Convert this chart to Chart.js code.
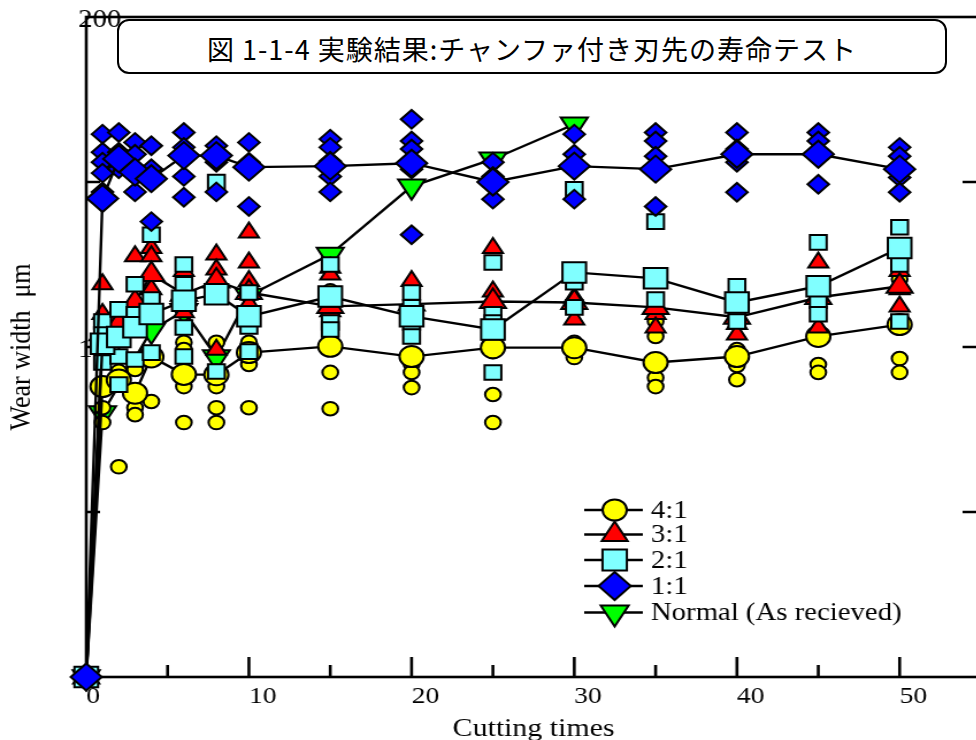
<!DOCTYPE html>
<html>
<head>
<meta charset="utf-8">
<script src="https://cdn.jsdelivr.net/npm/chart.js@4.4.0/dist/chart.umd.min.js"></script>
<style>
html, body { margin: 0; padding: 0; background: #fff; overflow: hidden; width: 976px; height: 740px; }
#wrap { position: absolute; left: 0; top: 0; width: 870px; height: 740px; transform: scaleX(1.15); transform-origin: 0 0; }
#title {
  position: absolute; left: 117px; top: 19px; width: 830px; height: 55px; box-sizing: border-box;
  border: 2px solid #000; border-radius: 12px; background: #fff; padding-top: 4px;
  display: flex; align-items: center; justify-content: center;
  font-family: "Noto Sans CJK JP", sans-serif; font-size: 27px; letter-spacing: 1px; color: #000;
}
</style>
</head>
<body>
<div id="wrap"><canvas id="wearChart"></canvas></div>
<div id="title">図 1-1-4 実験結果:チャンファ付き刃先の寿命テスト</div>
<script>
// cutting times where the averaged values were plotted
const cutTimes = [0, 1, 2, 3, 4, 6, 8, 10, 15, 20, 25, 30, 35, 40, 45, 50];

// averaged wear width (um), one per cutting time
const mean41 = [0, 88, 90, 86, 97, 91.7, 91.6, 98.3, 100.2, 97.1, 99.8, 99.8, 95.3, 97.1, 103.2, 106.8];
const mean31 = [0, 104, 107, 113.5, 122, 116, 120, 116.5, 112.3, 113, 113.8, 113.5, 112, 109, 115, 118.4];
const mean21 = [0, 101, 103, 106, 110, 114, 116, 109.3, 115.3, 109.3, 105.3, 122.6, 120.8, 113.5, 118.4, 130];
const mean11 = [0, 145, 157, 153, 151, 158, 158, 154.5, 154.8, 155.7, 150, 154.8, 153.9, 158.4, 158.4, 153.9];

const normalTimes = [0, 1, 4, 6, 8, 10, 15, 20, 25, 30];
const normalWear = [0, 80, 105, 111, 97, 115.6, 128, 148.7, 156.9, 167.5];

// single measurements, grouped by the cutting times above
const samples41 = [[], [81.6, 77.1], [92.6, 63.7], [93.2, 81.6, 79.5], [83.5], [101.4, 99.2, 88, 77.1],
  [101.4, 88, 81.6, 77.1], [101.4, 94.7, 81.6], [117, 103, 92.3, 81.3], [94.7, 92.3, 87.7],
  [113.5, 98.6, 85.6, 77.1], [101.4, 96.8], [107.7, 103.2, 90.7, 88], [99.2, 94.4, 90.1], [94.7, 92.3],
  [120.5, 96.5, 92.3]];
const samples31 = [[], [119, 110], [109.3, 106.2], [127.5, 113.5], [130, 127.5, 122, 117.5], [123, 110.5],
  [128, 123.5, 119.6, 99.2], [134.7, 125.6, 120, 113], [124, 122, 110.8], [120, 109.3],
  [130, 116.8, 113.5, 103.8], [115, 108.3], [110, 105.9], [107, 103.8], [125.6, 115.3, 105.9],
  [128.7, 123, 117.5, 112.3]];
const samples21 = [[], [107.7, 103.8, 95.3], [111.4, 97.1, 88.6], [119, 109.9, 96.2], [134, 114.4, 98.3],
  [125, 119, 105.9, 97.1], [150, 116.5, 92.6], [116.5, 106.2, 98.6], [125, 114.4, 107.4, 105.3],
  [116.5, 112, 107.4, 103.2], [125.6, 109.9, 107.4, 92.3], [147.8, 119.6, 112], [138, 114.4],
  [118.4, 112, 107.7], [131.7, 114, 109.9], [136.3, 125, 107.7]];
const samples11 = [[], [164.5, 159, 156, 152.7, 147], [165, 159, 156, 154], [162, 158.4, 154, 147],
  [161, 154, 138], [165, 160.5, 157.5, 151.7, 145.4], [161, 156, 147], [162, 156, 142.6],
  [163, 160.5, 156.3, 151.7, 147], [169, 162.4, 160, 153.9, 134], [156, 151.7, 144.8],
  [164.5, 158.4, 153.9, 144.8], [165, 162.4, 157.8, 142.6], [165, 160, 156, 146.9],
  [165, 162.4, 157.8, 149.3], [160.5, 157.8, 151.4, 146.9]];

const xTickLabels = [0, 10, 20, 30, 40, 50];
const yTickLabels = [100, 200];

const serif = "'Liberation Serif', 'Times New Roman', serif";

function pts(xs, ys) {
  return xs.map((x, i) => ({x: x, y: ys[i]}));
}
function flat(xs, groups) {
  const out = [];
  groups.forEach((g, i) => g.forEach(v => out.push({x: xs[i], y: v})));
  return out;
}

const series = [
  {label: '4:1', color: '#ffff00', style: 'circle', rot: 0, xs: cutTimes, mean: mean41, samples: samples41, big: 10.5, small: 6.8, leg: 10.5, order: 7},
  {label: '3:1', color: '#ff0000', style: 'triangle', rot: 0, xs: cutTimes, mean: mean31, samples: samples31, big: 13, small: 10, leg: 13, order: 5},
  {label: '2:1', color: '#80ffff', style: 'rect', rot: 0, xs: cutTimes, mean: mean21, samples: samples21, big: 14.5, small: 10.3, leg: 15, order: 3},
  {label: '1:1', color: '#0000ff', style: 'rectRot', rot: 0, xs: cutTimes, mean: mean11, samples: samples11, big: 13.5, small: 9.3, leg: 14, order: 1},
  {label: 'Normal (As recieved)', color: '#00ff00', style: 'triangle', rot: 180, xs: normalTimes, mean: normalWear, samples: null, big: 13.5, small: 0, leg: 14, order: 9}
];

const datasets = [];
series.forEach(s => {
  datasets.push({
    label: s.label, data: pts(s.xs, s.mean), showLine: true, order: s.order, clip: false,
    borderColor: '#000', borderWidth: 2.4, tension: 0,
    pointStyle: s.style, pointRotation: s.rot, pointRadius: s.big,
    pointBackgroundColor: s.color, pointBorderColor: '#000', pointBorderWidth: 2
  });
  if (s.samples) {
    datasets.push({
      label: s.label + ' each', data: flat(s.xs, s.samples), showLine: false, order: s.order + 1, clip: false,
      pointStyle: s.style, pointRotation: s.rot, pointRadius: s.small,
      pointBackgroundColor: s.color, pointBorderColor: '#000', pointBorderWidth: 2
    });
  }
});

function shape(ctx, style, x, y, r, rot) {
  ctx.beginPath();
  if (style === 'circle') {
    ctx.arc(x, y, r, 0, Math.PI * 2);
  } else if (style === 'rect') {
    const h = r / Math.SQRT2;
    ctx.rect(x - h, y - h, 2 * h, 2 * h);
  } else if (style === 'rectRot') {
    ctx.moveTo(x - r, y); ctx.lineTo(x, y - r); ctx.lineTo(x + r, y); ctx.lineTo(x, y + r); ctx.closePath();
  } else {
    let a = rot * Math.PI / 180;
    for (let k = 0; k < 3; k++) {
      const px = x + Math.sin(a) * r, py = y - Math.cos(a) * r;
      if (k) ctx.lineTo(px, py); else ctx.moveTo(px, py);
      a += 2 * Math.PI / 3;
    }
    ctx.closePath();
  }
  ctx.fill();
  ctx.stroke();
}

// frame and inward tick marks
const frame = {
  id: 'frame',
  beforeDatasetsDraw(chart) {
    const ctx = chart.ctx, a = chart.chartArea, x = chart.scales.x, y = chart.scales.y;
    ctx.save();
    ctx.strokeStyle = '#000';
    ctx.lineWidth = 2.6;
    ctx.strokeRect(a.left, a.top, a.right - a.left, a.bottom - a.top);
    ctx.beginPath();
    x.ticks.forEach(t => {
      if (t.value === 0) return;
      const px = x.getPixelForValue(t.value);
      const len = t.value % 10 === 0 ? 20 : 12;
      ctx.moveTo(px, a.bottom); ctx.lineTo(px, a.bottom - len);
    });
    y.ticks.forEach(t => {
      if (t.value === 0 || t.value === 200) return;
      const py = y.getPixelForValue(t.value);
      const len = t.value % 100 === 0 ? 17 : 12;
      ctx.moveTo(a.left, py); ctx.lineTo(a.left + len, py);
      ctx.moveTo(a.right, py); ctx.lineTo(a.right - 16, py);
    });
    ctx.stroke();
    ctx.restore();
  }
};

const legendBox = {
  id: 'legendBox',
  afterDraw(chart) {
    const ctx = chart.ctx;
    const x0 = 508, x1 = 559, xm = 534.5, xt = 566;
    const rows = [510, 534.5, 560, 586, 612.5];
    ctx.save();
    ctx.font = '25px ' + serif;
    ctx.textBaseline = 'middle';
    ctx.textAlign = 'left';
    series.forEach((s, i) => {
      const yy = rows[i];
      ctx.strokeStyle = '#000';
      ctx.lineWidth = 2.4;
      ctx.beginPath(); ctx.moveTo(x0, yy); ctx.lineTo(x1, yy); ctx.stroke();
      ctx.lineWidth = 2;
      ctx.fillStyle = s.color;
      shape(ctx, s.style, xm, yy, s.leg, s.rot);
      ctx.fillStyle = '#000';
      ctx.fillText(s.label, xt, yy + 1);
    });
    ctx.restore();
  }
};

Chart.defaults.color = '#000';

new Chart(document.getElementById('wearChart'), {
  type: 'scatter',
  data: {datasets: datasets},
  options: {
    responsive: true,
    maintainAspectRatio: false,
    animation: false,
    events: [],
    layout: {padding: {top: 17, right: 17, bottom: 0, left: 0}},
    plugins: {legend: {display: false}, tooltip: {enabled: false}},
    scales: {
      x: {
        type: 'linear', min: 0, max: 55,
        grid: {display: false}, border: {display: false},
        ticks: {
          stepSize: 5, autoSkip: false, maxRotation: 0, padding: -3, align: 'start',
          font: {family: serif, size: 24},
          callback: v => xTickLabels.includes(v) ? String(v) : ''
        },
        title: {display: true, text: 'Cutting times', font: {family: serif, size: 26}, padding: {top: -5, bottom: -5}},
        afterFit: s => { s.height = 63; }
      },
      y: {
        type: 'linear', min: 0, max: 200,
        grid: {display: false}, border: {display: false},
        ticks: {
          stepSize: 50, mirror: true, padding: -7, labelOffset: 3,
          font: {family: serif, size: 25},
          callback: v => yTickLabels.includes(v) ? String(v) : ''
        },
        title: {display: true, text: 'Wear width  μm', font: {family: serif, size: 26}, padding: {top: 4, bottom: 4}},
        afterFit: s => { s.width = 75; }
      }
    }
  },
  plugins: [frame, legendBox]
});
</script>
</body>
</html>
